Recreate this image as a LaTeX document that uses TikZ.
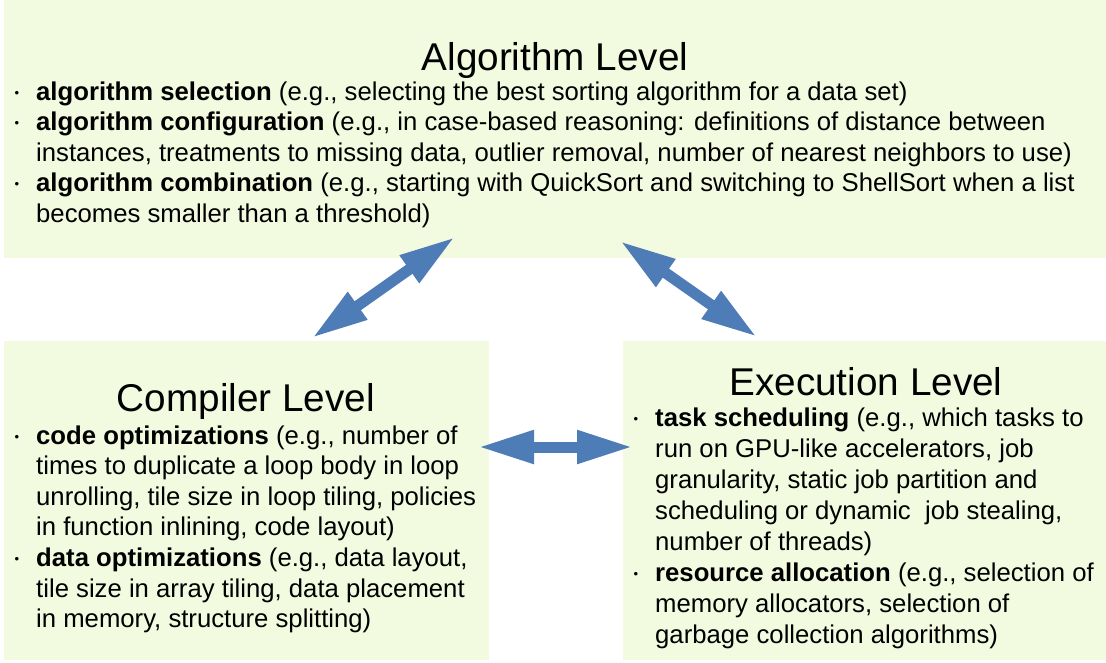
\documentclass[tikz,border=0pt]{standalone}
\usepackage{fontspec}
\setmainfont{Liberation Sans}
\usepackage{tikz}
\usetikzlibrary{positioning}
\usetikzlibrary{arrows.meta}
\usepackage{xcolor}

\definecolor{boxgreen}{RGB}{242,250,223}
\definecolor{arrowblue}{RGB}{78,124,182}

\newcommand{\itm}{\makebox[0pt][r]{\raisebox{3pt}{\fontsize{13}{13}\selectfont\textbullet}\hspace{17pt}}}

\tikzset{
  levelbox/.style={fill=boxgreen, draw=none, anchor=north west, inner sep=0pt},
  leveltitle/.style={anchor=base, inner sep=0pt, font=\fontsize{38.7}{44}\selectfont},
  itemtext/.style={anchor=base west, inner sep=0pt, align=left, font=\fontsize{25.7}{30.6}\selectfont},
  dblarrow/.style={arrowblue, line width=11pt,
    {Triangle[length=56pt, width=31pt]}-{Triangle[length=56pt, width=31pt]}}
}

\begin{document}
\begin{tikzpicture}[x=1pt, y=-1pt]
\useasboundingbox (0,0) rectangle (1106,662);

% boxes
\node[levelbox, minimum width=1102pt, minimum height=258pt] (alg) at (4,0) {};
\node[levelbox, minimum width=485pt, minimum height=319pt] (comp) at (4,341) {};
\node[levelbox, minimum width=483pt, minimum height=319pt] (exec) at (623,341) {};

% titles
\node[leveltitle] (algT) at (555,70) {Algorithm Level};
\node[leveltitle] (compT) at (246,411) {Compiler Level};
\node[leveltitle] (execT) at (866,395) {Execution Level};

% algorithm level (anchored at the baseline of the last line)
\node[itemtext] (algI) at (36,222.4) {\itm\textbf{algorithm selection} (e.g., selecting the best sorting algorithm for a data set)\\
\itm\textbf{algorithm configuration} (e.g., in case-based reasoning: definitions of distance between\\
instances, treatments to missing data, outlier removal, number of nearest neighbors to use)\\
\itm\textbf{algorithm combination} (e.g., starting with QuickSort and switching to ShellSort when a list\\
becomes smaller than a threshold)};

% compiler level
\node[itemtext] (compI) at (36,627.6) {\itm\textbf{code optimizations} (e.g., number of\\
times to duplicate a loop body in loop\\
unrolling, tile size in loop tiling, policies\\
in function inlining, code layout)\\
\itm\textbf{data optimizations} (e.g., data layout,\\
tile size in array tiling, data placement\\
in memory, structure splitting)};

% execution level
\node[itemtext, font=\fontsize{25.7}{30.9}\selectfont] (execI) at (655,643) {\itm\textbf{task scheduling} (e.g., which tasks to\\
run on GPU-like accelerators, job\\
granularity, static job partition and\\
scheduling or dynamic\ \ job stealing,\\
number of threads)\\
\itm\textbf{resource allocation} (e.g., selection of\\
memory allocators, selection of\\
garbage collection algorithms)};

% arrows
\coordinate (algL) at (455,237);
\coordinate (compU) at (312,338);
\coordinate (algR) at (620,241);
\coordinate (execU) at (757,337);
\coordinate (compR) at (478,447);
\coordinate (execL) at (633,447);

\draw[dblarrow] (compU)--(algL);
\draw[dblarrow] (algR)--(execU);
\draw[dblarrow] (compR)--(execL);

\end{tikzpicture}
\end{document}
